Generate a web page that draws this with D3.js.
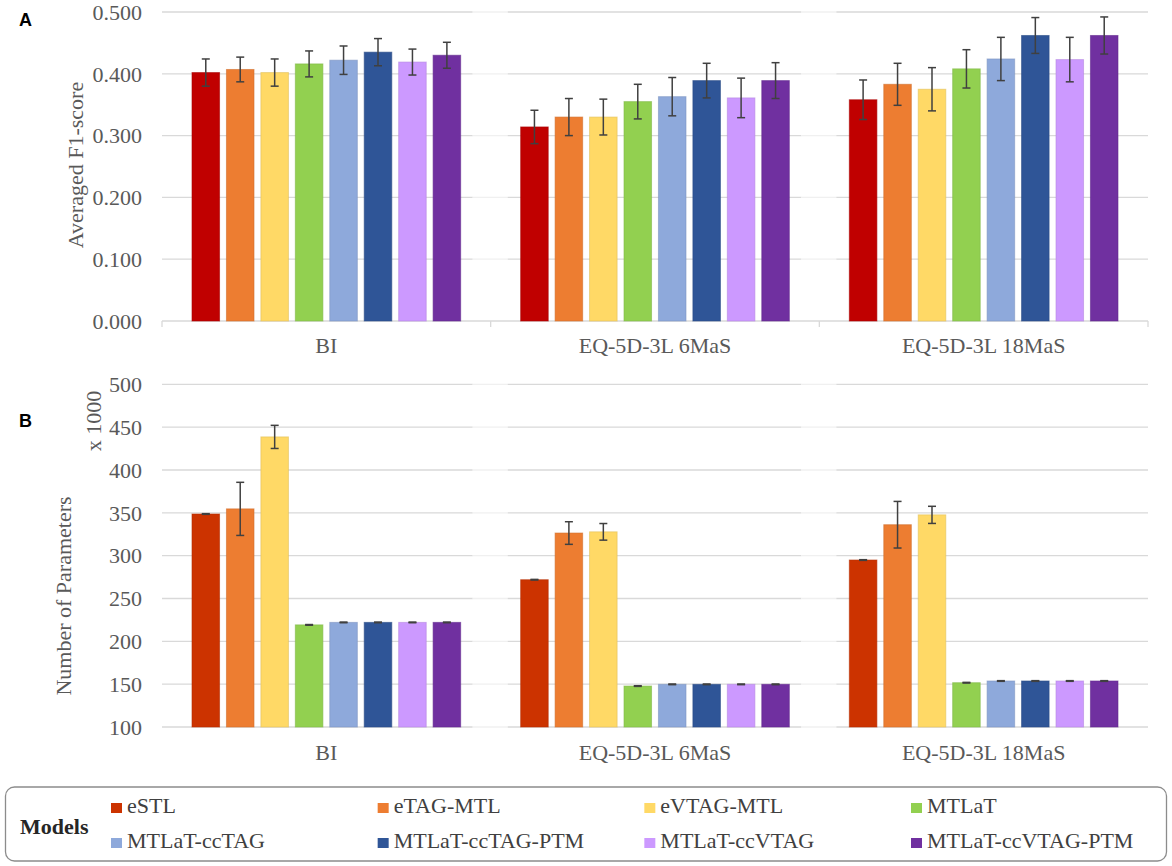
<!DOCTYPE html>
<html>
<head>
<meta charset="utf-8">
<script src="https://cdn.jsdelivr.net/npm/d3@7"></script>
<style>
  body { margin: 0; background: #fff; }
  text { font-family: "Liberation Serif", "Times New Roman", serif; }
</style>
</head>
<body>
<script>
// categories and models
var groups = ['BI', 'EQ-5D-3L 6MaS', 'EQ-5D-3L 18MaS'];
var models = ['eSTL', 'eTAG-MTL', 'eVTAG-MTL', 'MTLaT', 'MTLaT-ccTAG', 'MTLaT-ccTAG-PTM', 'MTLaT-ccVTAG', 'MTLaT-ccVTAG-PTM'];

// panel A: averaged F1-score (mean, error), one row per group
var f1Mean = [
    [0.402, 0.407, 0.402, 0.416, 0.422, 0.435, 0.419, 0.430],
    [0.314, 0.330, 0.330, 0.355, 0.363, 0.389, 0.361, 0.389],
    [0.358, 0.383, 0.375, 0.408, 0.424, 0.462, 0.423, 0.462]
];
var f1Err = [
    [0.022, 0.020, 0.022, 0.021, 0.023, 0.022, 0.021, 0.021],
    [0.027, 0.030, 0.029, 0.028, 0.031, 0.028, 0.032, 0.029],
    [0.032, 0.034, 0.035, 0.031, 0.035, 0.029, 0.036, 0.030]
];

// panel B: number of parameters (x 1000)
var paramMean = [
    [348.6, 354.6, 438.6, 219.2, 222.1, 222.1, 222.1, 222.1],
    [271.9, 326.4, 327.8, 147.8, 149.8, 149.8, 149.8, 149.8],
    [294.9, 336.1, 347.6, 151.7, 153.7, 153.7, 153.7, 153.7]
];
var paramErr = [
    [0.4, 31.0, 13.5, 0.4, 0.4, 0.4, 0.4, 0.4],
    [0.4, 13.2, 9.7, 0.4, 0.4, 0.4, 0.4, 0.4],
    [0.4, 27.2, 10.0, 0.4, 0.4, 0.4, 0.4, 0.4]
];

var f1Ticks = [0, 0.1, 0.2, 0.3, 0.4, 0.5];
var paramTicks = [100, 150, 200, 250, 300, 350, 400, 450, 500];

var colorsA = ['#C00000', '#ED7D31', '#FFD966', '#92D050', '#8EA9DB', '#2F5597', '#CC99FF', '#7030A0'];
var colorsB = ['#CC3300', '#ED7D31', '#FFD966', '#92D050', '#8EA9DB', '#2F5597', '#CC99FF', '#7030A0'];

var width = 1172, height = 866;

var svg = d3.select('body').append('svg')
    .attr('width', width)
    .attr('height', height);

var x0 = d3.scaleBand().domain(groups).range([162, 1148]).paddingInner(0);
var x1 = d3.scaleBand().domain(models).range([30, x0.bandwidth() - 30]).paddingInner(0.2);

function gridSegments(g, y, v, faded) {
    // gridline per group band, leaving the soft gaps at the band edges
    groups.forEach(function (grp, i) {
        var a = x0(grp) + (i > 0 ? 17 : 0);
        var b = x0(grp) + x0.bandwidth() - (i < groups.length - 1 ? 18 : 0);
        g.append('line')
            .attr('x1', a).attr('x2', b)
            .attr('y1', y(v)).attr('y2', y(v))
            .attr('stroke', '#D9D9D9').attr('stroke-width', 1.3);
        if (faded && i < groups.length - 1) {
            g.append('line')
                .attr('x1', b).attr('x2', x0(groups[i + 1]) + 17)
                .attr('y1', y(v)).attr('y2', y(v))
                .attr('stroke', '#F0F0F0').attr('stroke-width', 1.3);
        }
    });
}

function panel(y, ticks, fmt, means, errs, colors, opts) {
    var g = svg.append('g');

    ticks.forEach(function (t) {
        if (t === ticks[0] && opts.axisTicks) return;
        gridSegments(g, y, t, true);
    });

    if (opts.axisTicks) {
        g.append('line')
            .attr('x1', x0.range()[0]).attr('x2', x0.range()[1])
            .attr('y1', y(ticks[0])).attr('y2', y(ticks[0]))
            .attr('stroke', '#D9D9D9').attr('stroke-width', 1.3);
        var edges = groups.map(function (grp) { return x0(grp); }).concat([x0.range()[1]]);
        g.selectAll('line.tick').data(edges).enter().append('line')
            .attr('class', 'tick')
            .attr('x1', function (d) { return d; }).attr('x2', function (d) { return d; })
            .attr('y1', y(ticks[0])).attr('y2', y(ticks[0]) + 6)
            .attr('stroke', '#D9D9D9').attr('stroke-width', 1.3);
    }

    // y tick labels
    g.selectAll('text.ylab').data(ticks).enter().append('text')
        .attr('class', 'ylab')
        .attr('x', 142)
        .attr('y', function (d) { return y(d); })
        .attr('dy', '0.35em')
        .attr('text-anchor', 'end')
        .attr('font-size', 22)
        .attr('fill', '#595959')
        .text(fmt);

    // bars
    var gg = g.selectAll('g.grp').data(groups).enter().append('g')
        .attr('class', 'grp')
        .attr('transform', function (d) { return 'translate(' + x0(d) + ',0)'; });

    gg.selectAll('rect').data(function (d, gi) {
        return models.map(function (m, mi) {
            return { m: m, v: means[gi][mi], e: errs[gi][mi], c: colors[mi] };
        });
    }).enter().append('rect')
        .attr('x', function (d) { return x1(d.m); })
        .attr('width', x1.bandwidth())
        .attr('y', function (d) { return y(d.v); })
        .attr('height', function (d) { return y(ticks[0]) - y(d.v); })
        .attr('fill', function (d) { return d.c; })
        .attr('stroke', function (d) { return d3.color(d.c).darker(0.35); })
        .attr('stroke-opacity', 0.6)
        .attr('stroke-width', 1);

    // error bars
    var eb = gg.selectAll('g.err').data(function (d, gi) {
        return models.map(function (m, mi) {
            return { m: m, v: means[gi][mi], e: errs[gi][mi] };
        });
    }).enter().append('g').attr('class', 'err')
        .attr('stroke', '#404040').attr('stroke-width', 1.5);
    var cx = function (d) { return x1(d.m) + x1.bandwidth() / 2; };
    eb.append('line')
        .attr('x1', cx).attr('x2', cx)
        .attr('y1', function (d) { return y(d.v + d.e); })
        .attr('y2', function (d) { return y(d.v - d.e); });
    [1, -1].forEach(function (s) {
        eb.append('line')
            .attr('x1', function (d) { return cx(d) - 4; })
            .attr('x2', function (d) { return cx(d) + 4; })
            .attr('y1', function (d) { return y(d.v + s * d.e); })
            .attr('y2', function (d) { return y(d.v + s * d.e); });
    });

    // category labels
    g.selectAll('text.xlab').data(groups).enter().append('text')
        .attr('class', 'xlab')
        .attr('x', function (d) { return x0(d) + x0.bandwidth() / 2; })
        .attr('y', opts.labelY)
        .attr('text-anchor', 'middle')
        .attr('font-size', 22)
        .attr('fill', '#595959')
        .text(function (d) { return d; });

    return g;
}

// panel A
var yA = d3.scaleLinear().domain([0, 0.5]).range([321, 12]);
panel(yA, f1Ticks, d3.format('.3f'), f1Mean, f1Err, colorsA, { axisTicks: true, labelY: 353 });

svg.append('text')
    .attr('transform', 'translate(83,165) rotate(-90)')
    .attr('text-anchor', 'middle')
    .attr('font-size', 22)
    .attr('fill', '#595959')
    .text('Averaged F1-score');

// panel B
var yB = d3.scaleLinear().domain([100, 500]).range([727, 384.3]);
panel(yB, paramTicks, d3.format('d'), paramMean, paramErr, colorsB, { axisTicks: false, labelY: 760 });

svg.append('text')
    .attr('transform', 'translate(71,596) rotate(-90)')
    .attr('text-anchor', 'middle')
    .attr('font-size', 22)
    .attr('fill', '#595959')
    .text('Number of Parameters');

svg.append('text')
    .attr('transform', 'translate(101,421) rotate(-90)')
    .attr('text-anchor', 'middle')
    .attr('font-size', 22)
    .attr('fill', '#595959')
    .text('x 1000');

// panel letters
svg.append('text').attr('x', 19).attr('y', 26)
    .style('font-family', '"Liberation Sans", Arial, sans-serif')
    .attr('font-size', 18).attr('font-weight', 'bold').attr('fill', '#000')
    .text('A');
svg.append('text').attr('x', 19).attr('y', 427)
    .style('font-family', '"Liberation Sans", Arial, sans-serif')
    .attr('font-size', 18).attr('font-weight', 'bold').attr('fill', '#000')
    .text('B');

// legend
var lg = svg.append('g');
lg.append('rect')
    .attr('x', 5.5).attr('y', 787)
    .attr('width', 1161).attr('height', 74)
    .attr('rx', 9)
    .attr('fill', '#fff')
    .attr('stroke', '#8C8C8C').attr('stroke-width', 1.3);
lg.append('text')
    .attr('x', 20).attr('y', 834)
    .attr('font-size', 22).attr('font-weight', 'bold').attr('fill', '#262626')
    .text('Models');

var legCol = d3.scalePoint().domain([0, 1, 2, 3]).range([111, 911]);
var legRow = d3.scalePoint().domain([0, 1]).range([813, 848]);
var items = lg.selectAll('g.item').data(models).enter().append('g')
    .attr('class', 'item')
    .attr('transform', function (d, i) {
        return 'translate(' + legCol(i % 4) + ',' + legRow(Math.floor(i / 4)) + ')';
    });
items.append('rect')
    .attr('x', 0).attr('y', -10)
    .attr('width', 11).attr('height', 10)
    .attr('fill', function (d, i) { return colorsB[i]; });
items.append('text')
    .attr('x', 16).attr('y', 0)
    .attr('font-size', 22).attr('fill', '#404040')
    .text(function (d) { return d; });
</script>
</body>
</html>
